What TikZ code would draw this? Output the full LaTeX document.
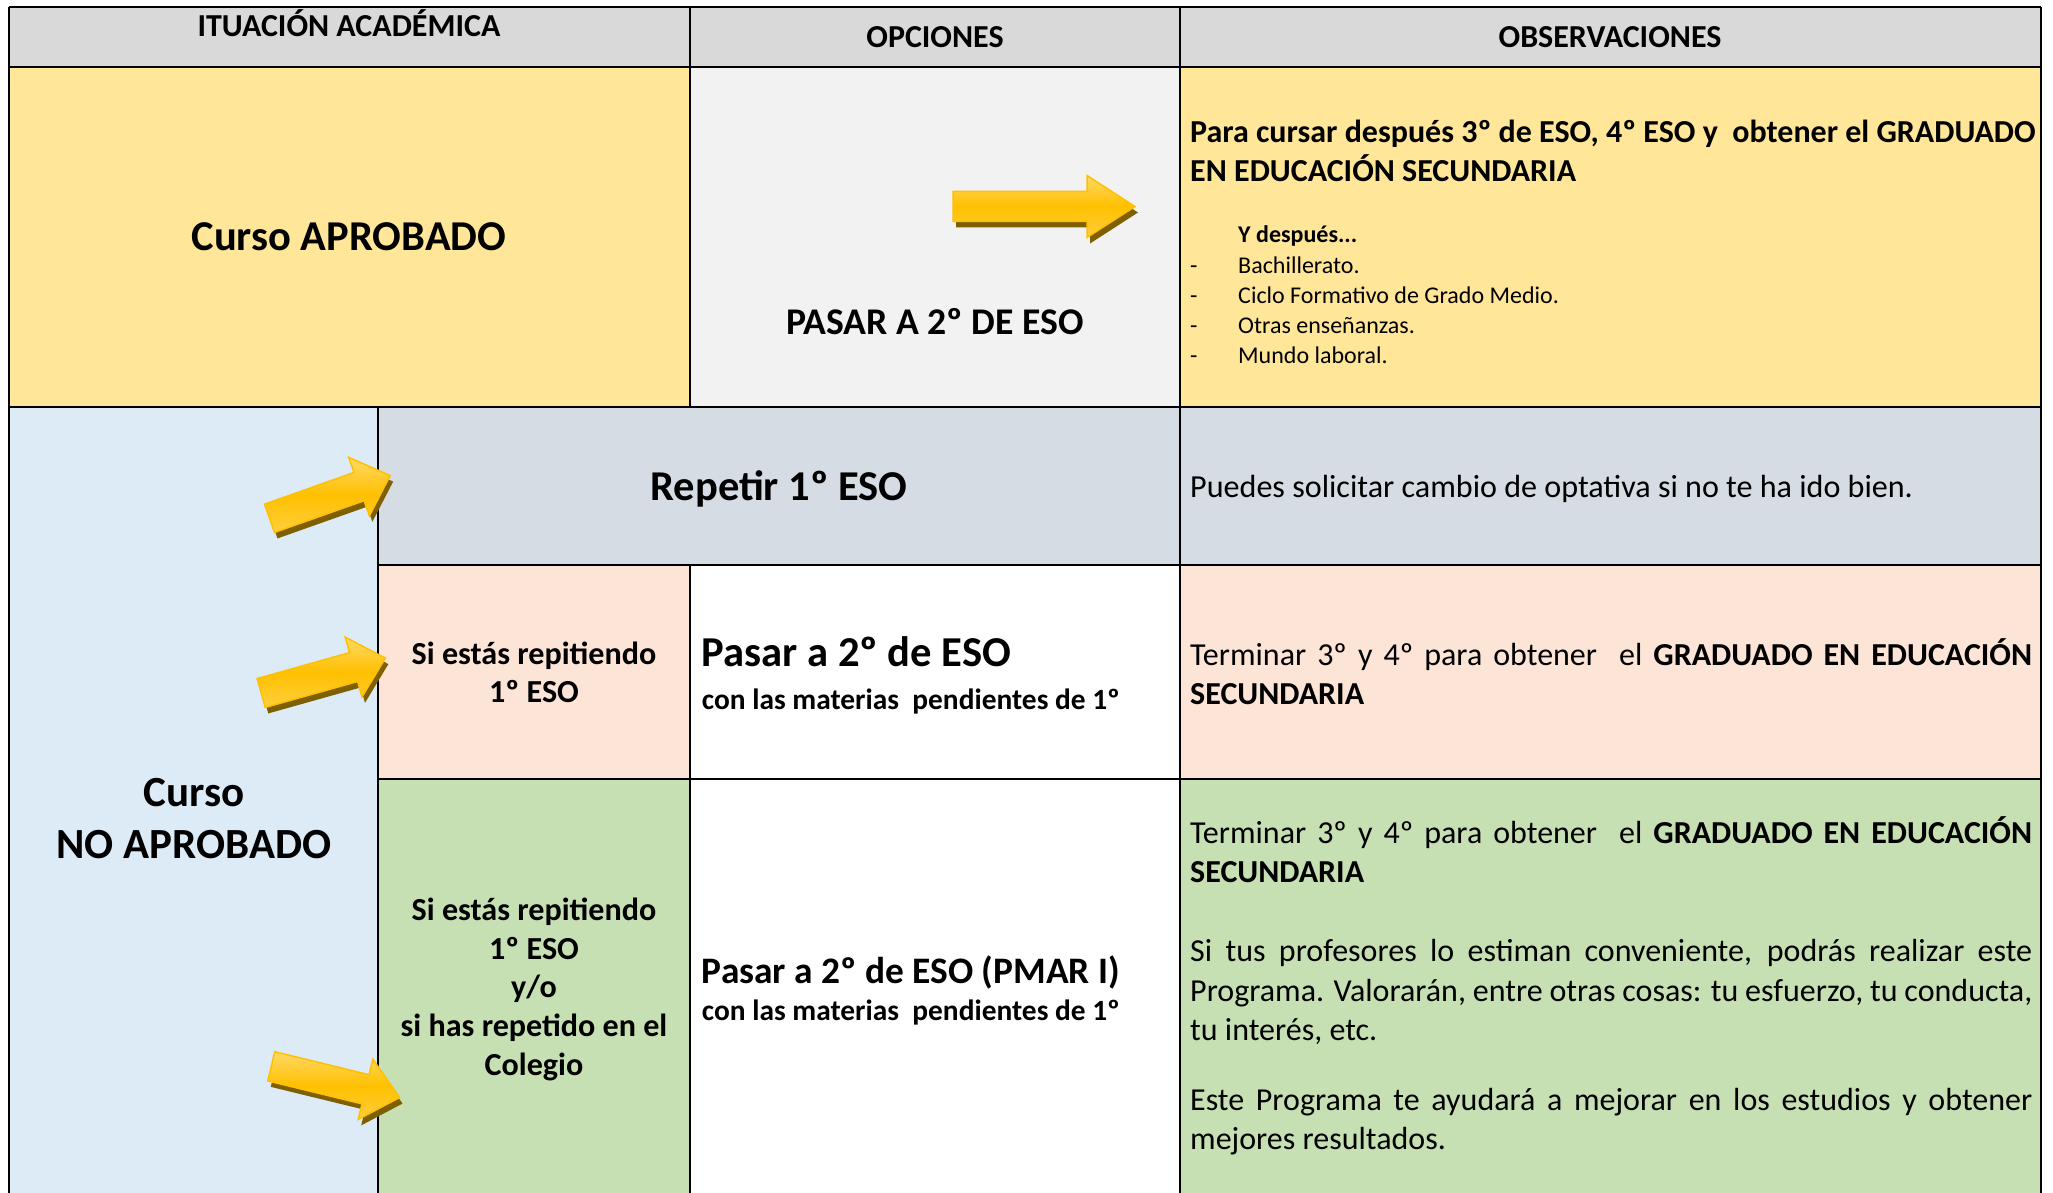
\documentclass[tikz,border=0pt]{standalone}
\usepackage{fontspec}
\setmainfont{Carlito}
\hyphenpenalty=10000
\exhyphenpenalty=10000
\definecolor{gris}{HTML}{D9D9D9}
\definecolor{grisclaro}{HTML}{F2F2F2}
\definecolor{amarillo}{HTML}{FFE699}
\definecolor{azul}{HTML}{DDEBF7}
\definecolor{azulgris}{HTML}{D6DCE4}
\definecolor{salmon}{HTML}{FCE4D6}
\definecolor{verde}{HTML}{C6E0B4}
\definecolor{flechaclara}{HTML}{FFD966}
\definecolor{flechaoro}{HTML}{FFC000}
\definecolor{flechasombra}{HTML}{7F6000}

\begin{document}
\begin{tikzpicture}[x=1pt, y=-1pt, inner sep=0pt,
    borde/.style={line width=2.5pt},
    cabecera/.style={font=\bfseries\fontsize{32}{36}\selectfont, anchor=base},
    titulo/.style={font=\bfseries\fontsize{42.5}{52}\selectfont, anchor=base},
    celda/.style={font=\bfseries\fontsize{32.1}{38.6}\selectfont, anchor=base, text width=300pt, align=flush center},
    opcion/.style={font=\bfseries\fontsize{42.6}{48}\selectfont, anchor=base west},
    pendientes/.style={font=\bfseries\fontsize{29.4}{34}\selectfont, anchor=base west},
    texto/.style={font=\fontsize{32}{39.3}\selectfont, anchor=base west, text width=842pt, align=justify},
    lista/.style={font=\fontsize{24}{29}\selectfont, anchor=base west},
    sombra/.style={fill=flechasombra},
    flecha/.style={draw=flechaoro, line width=1.5pt, top color=flechaclara, bottom color=flechaclara!60!flechaoro, middle color=flechaoro}]
  \useasboundingbox (0,0) rectangle (2053,1193);
  \clip (0,0) rectangle (2053,1193);
  % fondos de las celdas
  \fill[gris] (9,7) rectangle (2041,67);
  \fill[amarillo] (9,67) rectangle (690,407);
  \fill[grisclaro] (690,67) rectangle (1180,407);
  \fill[amarillo] (1180,67) rectangle (2041,407);
  \fill[azul] (9,407) rectangle (378,1210);
  \fill[azulgris] (378,407) rectangle (2041,565);
  \fill[salmon] (378,565) rectangle (690,779);
  \fill[white] (690,565) rectangle (1180,1210);
  \fill[salmon] (1180,565) rectangle (2041,779);
  \fill[verde] (378,779) rectangle (690,1210);
  \fill[verde] (1180,779) rectangle (2041,1210);
  % rejilla
  \foreach \y in {7, 67, 407}
    \draw[borde] (9,\y) -- (2041,\y);
  \foreach \y in {565, 779}
    \draw[borde] (378,\y) -- (2041,\y);
  \foreach \x in {9, 1180, 2041}
    \draw[borde] (\x,7) -- (\x,1210);
  \draw[borde] (690,7) -- (690,407) (690,565) -- (690,1210);
  \draw[borde] (378,407) -- (378,1210);

  % cabecera
  \node[cabecera] (situacion) at (349,37) {ITUACIÓN ACADÉMICA};
  \node[cabecera] (opciones) at (935,48) {OPCIONES};
  \node[cabecera] (observaciones) at (1610,48) {OBSERVACIONES};

  % curso aprobado
  \node[titulo] (aprobado) at (349,251) {Curso APROBADO};
  \node[titulo, font=\bfseries\fontsize{37.7}{44}\selectfont] (pasar) at (935,334) {PASAR A 2º DE ESO};
  \node[anchor=base west, font=\bfseries\fontsize{32}{39}\selectfont, text width=1000pt, align=flush left] (cursar) at (1190,142.7)
    {Para cursar después 3º de ESO, 4º ESO y\ \ obtener el GRADUADO\\EN EDUCACIÓN SECUNDARIA};
  \node[lista, font=\bfseries\fontsize{24}{29}\selectfont] (despues) at (1238,242.7) {Y después...};
  \foreach \txt [count=\i] in {Bachillerato., Ciclo Formativo de Grado Medio., Otras enseñanzas., Mundo laboral.}{
    \node[lista] (guion\i) at (1190,243.2+30*\i) {-};
    \node[lista] (salida\i) at (1238,243.2+30*\i) {\txt};}

  % curso no aprobado
  \node[titulo, font=\bfseries\fontsize{43}{52}\selectfont, text width=360pt, align=flush center] (noaprobado) at (194,806.7) {Curso\\NO APROBADO};
  \node[titulo] (repetir) at (779,500) {Repetir 1º ESO};
  \node[anchor=base west, font=\fontsize{32.1}{39.3}\selectfont] (optativa) at (1190,497)
    {Puedes solicitar cambio de optativa si no te ha ido bien.};

  \node[celda] (repitiendo) at (534,664) {Si estás repitiendo\\1º ESO};
  \node[opcion] (pasarsegundo) at (701.7,666.7) {Pasar a 2º de ESO};
  \node[pendientes] (pendientes) at (701.7,709) {con las materias\ \ pendientes de 1º};
  \node[texto] (terminar) at (1190,665)
    {Terminar 3º y 4º para obtener\ \ el \textbf{GRADUADO EN EDUCACIÓN}\linebreak \textbf{SECUNDARIA}};

  \node[celda] (repetido) at (534,920.7) {Si estás repitiendo\\1º ESO\\y/o\\si has repetido en el\\Colegio};
  \node[opcion, font=\bfseries\fontsize{37.4}{44}\selectfont] (pmar) at (701.7,983) {Pasar a 2º de ESO (PMAR I)};
  \node[pendientes] (pendientespmar) at (701.7,1020) {con las materias\ \ pendientes de 1º};
  \node[texto] (terminarpmar) at (1190,843)
    {Terminar 3º y 4º para obtener\ \ el \textbf{GRADUADO EN EDUCACIÓN}\linebreak \textbf{SECUNDARIA}};
  \node[texto] (profesores) at (1190,961.7)
    {Si tus profesores lo estiman conveniente, podrás realizar este\linebreak Programa. Valorarán, entre otras cosas: tu esfuerzo, tu conducta,\linebreak tu interés, etc.};
  \node[texto] (programa) at (1190,1110)
    {Este Programa te ayudará a mejorar en los estudios y obtener\linebreak mejores resultados.};

  % flechas amarillas
  \foreach \x/\y/\ang/\largo/\punta in {953/206.5/0/182/48, 269.5/518.3/19.5/128/33, 261.2/693/15.7/129/33, 271.3/1066.3/-13.7/132/35}{
    \fill[sombra, shift={(\x+3,\y+6)}, rotate=\ang] (0,-15) -- (\largo-\punta,-15) -- (\largo-\punta,-31)
      -- (\largo,0) -- (\largo-\punta,31) -- (\largo-\punta,15) -- (0,15) -- cycle;
    \path[flecha, shift={(\x,\y)}, rotate=\ang] (0,-15) -- (\largo-\punta,-15) -- (\largo-\punta,-31)
      -- (\largo,0) -- (\largo-\punta,31) -- (\largo-\punta,15) -- (0,15) -- cycle;}
\end{tikzpicture}
\end{document}
